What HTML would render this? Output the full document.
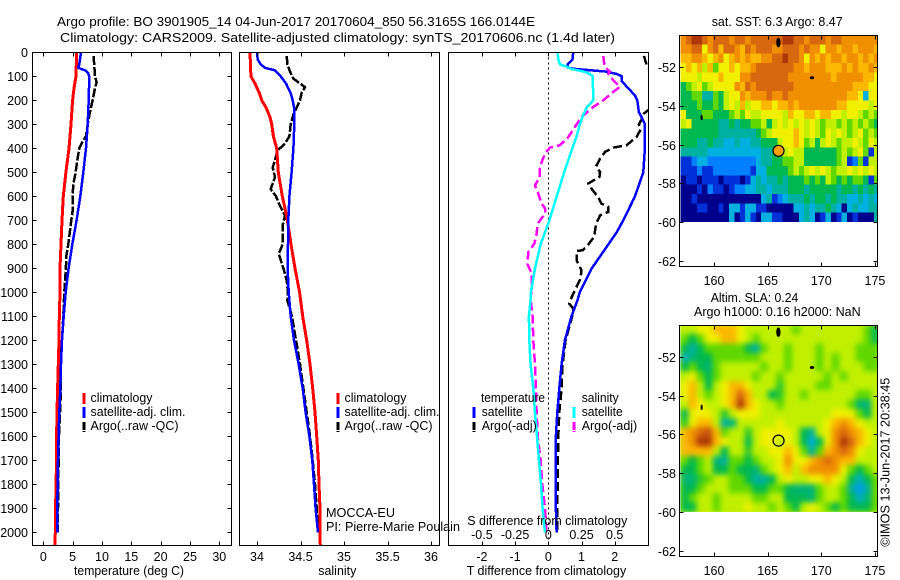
<!DOCTYPE html>
<html lang="en">
<head>
<meta charset="utf-8">
<title>Argo profile 3901905_14</title>
<style>
html,body{margin:0;padding:0;background:#fff;}
body{width:900px;height:580px;overflow:hidden;}
svg{display:block;}
text{font-family:"Liberation Sans",Arial,sans-serif;font-size:13px;fill:#000;}
</style>
</head>
<body>
<svg id="chart" xmlns="http://www.w3.org/2000/svg" width="900" height="580" viewBox="0 0 900 580">
  <rect x="0" y="0" width="900" height="580" fill="#fff"/>
  <text x="57" y="26" textLength="478" lengthAdjust="spacingAndGlyphs">Argo profile: BO 3901905_14 04-Jun-2017 20170604_850 56.3165S 166.0144E</text>
  <text x="60" y="42" textLength="555" lengthAdjust="spacingAndGlyphs">Climatology: CARS2009. Satellite-adjusted climatology: synTS_20170606.nc (1.4d later)</text>

  <g id="temperature-panel"></g>
  <g id="salinity-panel"></g>
  <g id="difference-panel"></g>
  <g id="sst-map"></g>
  <g id="sla-map"></g>

  <g>
    <line x1="84" y1="393" x2="84" y2="404" stroke="#f00" stroke-width="3"/>
    <line x1="84" y1="407" x2="84" y2="418" stroke="#00f" stroke-width="3"/>
    <line x1="84" y1="422" x2="84" y2="432" stroke="#000" stroke-width="3" stroke-dasharray="8 1"/>
    <text x="90.5" y="402" textLength="62" lengthAdjust="spacingAndGlyphs">climatology</text>
    <text x="90.5" y="416" textLength="95" lengthAdjust="spacingAndGlyphs">satellite-adj. clim.</text>
    <text x="90.5" y="430" textLength="88" lengthAdjust="spacingAndGlyphs">Argo(..raw -QC)</text>
  </g>
  <g>
    <line x1="338" y1="393" x2="338" y2="404" stroke="#f00" stroke-width="3"/>
    <line x1="338" y1="407" x2="338" y2="418" stroke="#00f" stroke-width="3"/>
    <line x1="338" y1="422" x2="338" y2="432" stroke="#000" stroke-width="3" stroke-dasharray="8 1"/>
    <text x="344.5" y="402" textLength="62" lengthAdjust="spacingAndGlyphs">climatology</text>
    <text x="344.5" y="416" textLength="95" lengthAdjust="spacingAndGlyphs">satellite-adj. clim.</text>
    <text x="344.5" y="430" textLength="88" lengthAdjust="spacingAndGlyphs">Argo(..raw -QC)</text>
  </g>
  <text x="326" y="517" textLength="69" lengthAdjust="spacingAndGlyphs">MOCCA-EU</text>
  <text x="326" y="531" textLength="134" lengthAdjust="spacingAndGlyphs">PI: Pierre-Marie Poulain</text>
  <g>
    <text x="481" y="402" textLength="64" lengthAdjust="spacingAndGlyphs">temperature</text>
    <line x1="474" y1="407" x2="474" y2="418" stroke="#00f" stroke-width="3"/>
    <text x="481.7" y="416" textLength="41" lengthAdjust="spacingAndGlyphs">satellite</text>
    <line x1="474" y1="422" x2="474" y2="432" stroke="#000" stroke-width="3" stroke-dasharray="8 1"/>
    <text x="481.7" y="430" textLength="55" lengthAdjust="spacingAndGlyphs">Argo(-adj)</text>
    <text x="581.7" y="402" textLength="37" lengthAdjust="spacingAndGlyphs">salinity</text>
    <line x1="574" y1="407" x2="574" y2="418" stroke="#0ff" stroke-width="3"/>
    <text x="581.7" y="416" textLength="41" lengthAdjust="spacingAndGlyphs">satellite</text>
    <line x1="574" y1="422" x2="574" y2="432" stroke="#f0f" stroke-width="3" stroke-dasharray="8 1"/>
    <text x="581.7" y="430" textLength="55.5" lengthAdjust="spacingAndGlyphs">Argo(-adj)</text>
  </g>

  <text x="74" y="575" textLength="110" lengthAdjust="spacingAndGlyphs">temperature (deg C)</text>
  <text x="318.3" y="575" textLength="38" lengthAdjust="spacingAndGlyphs">salinity</text>
  <text x="466.7" y="575" textLength="159.5" lengthAdjust="spacingAndGlyphs">T difference from climatology</text>
  <text x="467.3" y="525" textLength="160" lengthAdjust="spacingAndGlyphs">S difference from climatology</text>

  <text x="711.7" y="26" textLength="131" lengthAdjust="spacingAndGlyphs">sat. SST: 6.3 Argo: 8.47</text>
  <text x="710.7" y="302" textLength="87.6" lengthAdjust="spacingAndGlyphs">Altim. SLA: 0.24</text>
  <text x="694" y="316" textLength="166.7" lengthAdjust="spacingAndGlyphs">Argo h1000: 0.16 h2000: NaN</text>
  <text transform="translate(889.5,546.7) rotate(-90)" x="0" y="0" textLength="169" lengthAdjust="spacingAndGlyphs">©IMOS 13-Jun-2017 20:38:45</text>
</svg>

<script>
/* ---------- axis tick labels ---------- */
const depthTicks = [0,100,200,300,400,500,600,700,800,900,1000,1100,1200,1300,1400,1500,1600,1700,1800,1900,2000];
const temperatureTicks = [0,5,10,15,20,25,30];
const salinityTicks = [34,34.5,35,35.5,36];
const tDiffTicks = [-2,-1,0,1,2];
const sDiffTicks = [-0.5,-0.25,0,0.25,0.5];
const lonTicks = [160,165,170,175];
const latTicks = [52,54,56,58,60,62];

/* ---------- temperature profiles (deg C) ---------- */
const climDepth = [0,100,150,200,300,400,500,600,700,800,900,1000,1100,1200,1300,1400,1500,1600,1700,1800,1900,2000,2056];
const climTemp = [5.68,5.57,5.23,5.0,4.72,4.38,3.86,3.41,3.18,3.01,2.84,2.84,2.73,2.67,2.56,2.44,2.33,2.27,2.27,2.16,2.1,2.05,1.99];
const satTempDepth = [0,50,65,75,85,100,200,300,400,500,600,700,800,900,1000,1100,1200,1300,1400,1500,1600,1700,1800,1900,2000];
const satTemp = [6.42,6.14,5.97,7.1,7.61,7.84,7.73,7.56,7.27,6.82,6.31,5.68,4.94,4.32,3.81,3.47,3.18,3.01,2.9,2.73,2.61,2.5,2.44,2.39,2.39];
const argoTempDepth = [15,100,125,150,200,250,300,350,380,400,450,500,550,600,650,700,800,850,900,1000,1100,1200,1250,1300,1400,1500,1600,1700,1800,1900,2000];
const argoTemp = [8.58,8.81,9.09,8.81,8.41,7.95,7.56,7.27,6.53,6.14,5.8,5.51,5.11,5.0,5.06,4.77,4.26,3.92,3.86,3.58,3.41,3.18,3.07,2.95,3.01,2.84,2.67,2.61,2.56,2.5,2.44];

/* ---------- salinity profiles ---------- */
const climSalDepth = [0,100,130,170,200,230,270,300,350,400,500,600,650,700,800,900,1000,1100,1200,1300,1400,1500,1600,1700,1800,1900,2000,2056];
const climSal = [33.92,33.93,33.977,34.027,34.054,34.103,34.149,34.169,34.188,34.226,34.245,34.291,34.322,34.349,34.391,34.437,34.49,34.525,34.571,34.609,34.64,34.667,34.686,34.705,34.713,34.724,34.724,34.728];
const satSalDepth = [0,30,50,65,75,100,130,170,200,230,300,400,500,600,700,800,900,1000,1100,1200,1300,1400,1500,1600,1700,1800,1900,2000];
const satSal = [34,34.008,34.042,34.092,34.207,34.272,34.333,34.387,34.41,34.425,34.429,34.418,34.398,34.372,34.36,34.356,34.352,34.364,34.387,34.425,34.479,34.525,34.559,34.602,34.636,34.655,34.674,34.701];
const argoSalDepth = [15,50,80,110,125,145,170,200,230,260,300,350,380,410,450,480,520,570,600,640,680,720,800,840,900,950,1000,1035,1100,1200,1300,1400,1500,1600,1700,1800,1900,2000];
const argoSal = [34.341,34.349,34.379,34.418,34.475,34.552,34.513,34.494,34.456,34.418,34.387,34.372,34.322,34.234,34.207,34.18,34.207,34.157,34.218,34.264,34.322,34.295,34.295,34.249,34.303,34.341,34.356,34.349,34.402,34.448,34.494,34.533,34.571,34.609,34.64,34.667,34.686,34.705];

/* ---------- difference from climatology ---------- */
const satTDiffDepth = [0,30,50,65,70,80,90,100,120,150,180,200,250,270,300,400,500,600,700,750,800,900,1000,1033,1100,1200,1300,1400,1500,1600,1700,1800,1900,2000];
const satTDiff = [0.75,0.73,0.58,0.6,0.85,1.71,2.06,2.21,2.21,2.41,2.61,2.68,2.73,2.81,2.91,2.91,2.86,2.61,2.26,2.06,1.81,1.31,0.95,0.88,0.7,0.5,0.4,0.33,0.27,0.23,0.22,0.22,0.23,0.25];
const argoTDiffDepth = [15,60,100,150,200,255,280,300,320,352,387,397,415,443,475,499,519,547,575,603,631,644,665,679,714,769,811,825,828,867,908,943,992,1031,1047,1068,1100,1200,1300,1400,1500,1600,1700,1800,1900,2000];
const argoTDiff = [2.88,2.98,3.24,3.5,3.4,2.88,2.81,2.73,2.79,2.66,2.36,1.96,1.71,1.56,1.44,1.56,1.54,1.2,1.34,1.5,1.6,1.81,1.81,1.56,1.44,1.38,1.15,1.03,0.85,0.85,1.0,0.97,0.8,0.67,0.63,0.75,0.72,0.52,0.43,0.4,0.33,0.3,0.29,0.28,0.27,0.27];
const satSDiffDepth = [0,30,50,60,70,80,90,100,200,230,260,300,350,400,500,600,700,750,800,900,1000,1030,1100,1200,1300,1400,1500,1600,1700,1800,1900,2000];
const satSDiff = [0.07,0.075,0.088,0.138,0.176,0.264,0.314,0.334,0.339,0.289,0.264,0.238,0.213,0.181,0.12,0.063,0.008,-0.025,-0.058,-0.1,-0.131,-0.133,-0.146,-0.143,-0.133,-0.113,-0.1,-0.085,-0.07,-0.055,-0.043,-0.025];
const argoSDiffDepth = [15,50,65,80,90,117,144,165,200,228,269,304,353,387,397,422,457,485,519,554,589,631,651,672,714,756,797,832,881,922,978,1031,1100,1200,1300,1400,1500,1600,1700,1800,1900,2000];
const argoSDiff = [0.414,0.422,0.432,0.464,0.452,0.49,0.54,0.489,0.414,0.339,0.251,0.208,0.151,0.088,0.013,-0.025,-0.05,-0.063,-0.063,-0.1,-0.075,-0.05,-0.025,-0.025,-0.08,-0.088,-0.105,-0.15,-0.158,-0.125,-0.125,-0.133,-0.118,-0.113,-0.1,-0.093,-0.088,-0.08,-0.058,-0.045,-0.025,-0.013];

/* ---------- map data: colour-scale levels ---------- */
const sstLevels = [
[10,11,12,12,11,10,11,11,11,10,11,11,10,11,11,11,11,11,11,12,12,11,11,10,11,11,11,10,11,11,10,10,10,10,10,10,10],
[10,10,11,11,8,10,11,9,11,11,10,9,11,10,11,11,11,10,10,11,11,11,10,11,10,10,8,10,10,9,10,10,9,10,10,10,9],
[9,9,10,10,9,8,9,10,8,9,10,9,10,9,9,10,10,11,11,12,11,11,10,8,10,9,10,9,10,10,9,10,10,9,10,9,10],
[8,9,8,9,7,9,6,8,8,9,8,9,9,10,11,11,11,11,11,11,11,10,10,9,10,10,10,9,9,9,10,9,10,9,9,10,9],
[8,8,8,7,8,8,8,9,8,8,8,10,10,11,11,11,11,11,11,11,10,10,10,10,10,10,10,10,9,10,10,10,10,10,9,9,8],
[5,6,7,8,6,7,8,8,8,8,10,9,11,10,11,11,11,11,11,11,11,10,10,10,10,10,10,10,10,10,10,10,9,9,9,8,8],
[5,5,6,6,4,4,6,5,7,8,8,10,9,10,10,10,11,10,10,11,10,10,10,10,10,10,10,10,10,10,10,9,9,8,3,8,8],
[5,5,5,6,5,5,6,5,7,8,7,9,7,8,8,9,9,8,9,9,10,9,10,10,10,10,10,10,10,9,9,8,8,8,8,7,8],
[8,5,5,5,6,6,5,5,5,6,7,6,8,7,7,8,8,8,8,7,9,8,8,9,9,8,9,9,8,8,7,8,8,7,6,7,6],
[7,8,5,5,5,5,5,4,4,5,4,5,5,6,6,7,5,7,8,7,8,7,8,7,8,7,6,7,7,6,7,6,7,6,7,6,5],
[5,5,5,5,5,5,5,4,4,4,4,4,4,4,5,6,7,8,8,8,8,9,8,7,8,7,6,8,7,8,7,6,7,8,6,7,6],
[5,5,5,4,4,5,4,4,3,3,4,3,3,4,4,5,5,5,7,8,8,9,8,6,7,5,7,8,7,6,7,7,8,7,6,8,7],
[4,4,4,4,4,3,3,3,3,3,3,3,3,3,3,4,4,5,6,7,8,7,7,5,5,5,5,5,5,6,7,6,7,8,6,1,7],
[1,1,2,3,3,2,2,2,2,2,2,2,2,2,3,4,4,5,5,6,6,7,7,5,5,5,5,5,5,6,7,1,2,6,1,7,7],
[1,1,1,2,1,1,2,2,2,2,2,2,2,1,3,3,5,5,5,5,6,7,6,7,8,7,8,7,6,7,7,8,7,8,7,8,7],
[0,1,1,0,1,1,1,0,1,1,1,0,1,3,4,3,4,4,5,4,5,5,5,6,5,6,5,7,6,5,6,5,6,6,5,1,6],
[0,0,0,1,0,2,1,1,0,1,2,2,3,3,4,4,3,4,4,4,5,5,5,4,5,5,5,5,5,4,5,5,4,5,4,5,4],
[0,0,1,0,0,0,0,0,0,0,0,0,0,0,0,3,4,1,2,3,4,4,4,5,4,5,5,4,5,4,4,3,3,4,3,4,3],
[0,0,0,1,1,0,0,1,0,3,3,1,3,3,1,1,0,0,0,0,0,3,3,4,3,4,4,5,4,3,0,3,4,3,3,4,4],
[0,0,0,0,0,0,0,0,0,3,0,1,3,1,0,3,3,1,1,0,0,0,3,4,3,0,1,3,0,1,3,0,1,0,0,0,4]
];
const slaLevels = [
[7,7,8,8,9,9,9,8,7,7,7,7,7,7,6,7,7,7,7,7,7,7,7,6,5],
[6,5,6,8,8,9,9,8,7,6,7,7,7,7,7,7,7,7,7,7,7,7,7,6,5],
[5,4,5,6,6,6,6,6,5,4,6,7,7,6,7,7,7,6,7,7,7,7,6,6,6],
[3.5,4.5,5,5,6,6,6,6,6,6,7,7,7,6,7,7,7,6,7,6,7,7,6,6,6],
[5,6,5,4.5,6,7,7,7,7,7,6,7,7,6,7,7,7,6,7,6,7,7,7,6,6],
[7,8,6,5,6,7,7,7,7,6,7,7,6,7,7,7,7,7,6,7,6,7,7,7,7],
[8,9,7,5,7,8,9,9,8,7,7,7,5.5,7,7,7,7,6,6,7,7,7,7,7,7],
[8,9,7,6,7,8,9,11,9,7,7,5,5.5,7,7,6,7,7,7,7,7,7,6,6,7],
[7,9,8,7,7,8,9,12,9,8,7,7,6,7,7,7,7,7,7,7,7,6,4.5,4.5,7],
[5,8,8,8,7,5.5,7,8,8,8,7,7,7,7,7,7,7,7,7,8,8,8,6,5,7],
[5.5,8,9,9,7,4,4.5,7,7,7,7,7,8,7,7,7,7,7,8,9,10,9,8,7,7],
[9,10,11,11.5,9,6,7,7,5.5,7,8,8,8,8,7,5,4,7,8,10,11,10,9,8,7],
[9,10,12,12,9,8,7,7,5,7,8,8,7,8,7,5,3,5,8,10,12,11,9,8,7],
[9,9,9,9,7,5,7,7,5.5,7,7,8,8,9,8,6,4,6,9,10,11,10,8,7,7],
[6,5,6,7,4.5,4,6,6,5,6,7,7,8,10,8,8,9,10,11,10,9,9,7,7,7],
[5,5,6,7,5,5,6,5,5,4.5,6,7,8,9,7,9,10,10,10,10,8,6,5,6,7],
[4.5,4.5,5.5,6,7,7,6,6,5,4,4,5,7,8,7,7,8,8,9,8,7,5,3.5,5,6],
[5,5,6,7,7,7,6,6,6,5,5,6,6,5,4.5,4.5,4.5,6,7,7,6,4,2.5,4,6],
[5,6,7,7,6,7,7,7,7,6,6,7,7,5,5,5,4.5,6,7,7,6,5,3.5,4.5,6],
[5,5,7,7,6,7,7,7,8,7,7,6,7,6,5,7,8,7,6,5,6,5,5,5,6]
];
const mapLonStart = [156.9];
const mapLonEnd = [175.4];
const mapLatStart = [50.33];
const mapLatEnd = [60];
const profileLon = [166.0144];
const profileLat = [56.3165];
const islandLon = [166.0,169.13,158.85];
const islandLat = [50.72,52.54,54.6];
const islandLonSpan = [0.4,0.4,0.2];
const islandLatSpan = [0.5,0.15,0.3];

/* ---------- colour scale ---------- */
const palette = ['#00008c','#0030d8','#0080ff','#00b0e0','#00b0a0','#00b850','#60d800','#c0f000','#f0f000','#fcb800','#f09000','#d86810','#b03808'];

/* ---------- axis functions ---------- */
const depthY = d => 52.3 + 0.24 * d;
const tempX = t => 43.3 + 5.867 * t;
const salX = s => 257 + 87 * (s - 34);
const tDiffX = t => 548.3 + 33.2 * t;
const sDiffX = s => 548.3 + 132.8 * s;
const lonX = l => 714 + 10.73 * (l - 160);
const sstLatY = l => 67.3 + 19.35 * (l - 52);
const slaLatY = l => 357 + 19.37 * (l - 52);

const SVGNS = 'http://www.w3.org/2000/svg';
const chartDefs = document.createElementNS(SVGNS, 'defs');
document.getElementById('chart').insertBefore(chartDefs, document.getElementById('chart').firstChild);

function make(parent, tag, attrs, name) {
  const el = document.createElementNS(SVGNS, tag);
  for (const k in attrs) el.setAttribute(k, attrs[k]);
  
  
  parent.appendChild(el);
  return el;
}
function label(parent, x, y, str, anchor, name) {
  const t = make(parent, 'text', {x: x, y: y, 'text-anchor': anchor, style: 'font-size:12.5px'}, name);
  t.textContent = str;
  return t;
}
function frame(g, L, T, R, B) {
  make(g, 'rect', {x: L, y: T, width: R - L, height: B - T, fill: 'none', stroke: '#000', 'stroke-width': 1, 'shape-rendering': 'crispEdges'}, 'axes-frame');
}
function tick(g, x1, y1, x2, y2, name) {
  make(g, 'line', {x1: x1, y1: y1, x2: x2, y2: y2, stroke: '#000', 'stroke-width': 1, 'shape-rendering': 'crispEdges'}, name);
}
function clipFor(id, L, T, R, B) {
  const c = document.createElementNS(SVGNS, 'clipPath');
  c.setAttribute('id', id);
  const r = document.createElementNS(SVGNS, 'rect');
  r.setAttribute('x', L); r.setAttribute('y', T); r.setAttribute('width', R - L); r.setAttribute('height', B - T);
  c.appendChild(r);
  chartDefs.appendChild(c);
}
function profile(g, xs, depths, xFn, color, width, dash, name, clipId) {
  const pts = depths.map((d, i) => xFn(xs[i]).toFixed(1) + ',' + depthY(d).toFixed(1)).join(' ');
  const attrs = {points: pts, fill: 'none', stroke: color, 'stroke-width': width, 'shape-rendering': 'crispEdges', 'stroke-linejoin': 'round'};
  if (dash) attrs['stroke-dasharray'] = dash;
  attrs['clip-path'] = 'url(#' + clipId + ')';
  make(g, 'polyline', attrs, name);
}
function levelColor(v) {
  const lo = Math.max(0, Math.min(palette.length - 1, Math.floor(v)));
  const hi = Math.min(palette.length - 1, lo + 1);
  const f = Math.max(0, Math.min(1, v - lo));
  const a = parseInt(palette[lo].slice(1), 16), b = parseInt(palette[hi].slice(1), 16);
  const mix = s => Math.round(((a >> s) & 255) * (1 - f) + ((b >> s) & 255) * f);
  return 'rgb(' + mix(16) + ',' + mix(8) + ',' + mix(0) + ')';
}

/* ---------- temperature panel ---------- */
(function () {
  const g = document.getElementById('temperature-panel');
  const L = 32.5, R = 231.5, T = 52.5, B = 545.5;
  clipFor('clip-temp', L, T, R, B);
  profile(g, argoTemp, argoTempDepth, tempX, '#000', 2.5, '9 2', 'argo-temperature-line', 'clip-temp');
  profile(g, climTemp, climDepth, tempX, '#f00', 3, null, 'climatology-temperature-line', 'clip-temp');
  profile(g, satTemp, satTempDepth, tempX, '#00f', 2.5, null, 'satellite-temperature-line', 'clip-temp');
  frame(g, L, T, R, B);
  depthTicks.forEach(d => {
    const y = Math.round(depthY(d)) + 0.5;
    tick(g, L, y, L + 4, y, 'depth-tick-left');
    tick(g, R - 4, y, R, y, 'depth-tick-right');
    label(g, 28, y + 4.5, String(d), 'end', 'depth-tick-label');
  });
  temperatureTicks.forEach(v => {
    const x = Math.round(tempX(v)) + 0.5;
    tick(g, x, T, x, T + 4, 'temperature-tick-top');
    tick(g, x, B - 4, x, B, 'temperature-tick-bottom');
    label(g, tempX(v), 561, String(v), 'middle', 'temperature-tick-label');
  });
})();

/* ---------- salinity panel ---------- */
(function () {
  const g = document.getElementById('salinity-panel');
  const L = 239.5, R = 439.5, T = 52.5, B = 545.5;
  clipFor('clip-sal', L, T, R, B);
  profile(g, argoSal, argoSalDepth, salX, '#000', 2.5, '9 2', 'argo-salinity-line', 'clip-sal');
  profile(g, climSal, climSalDepth, salX, '#f00', 3, null, 'climatology-salinity-line', 'clip-sal');
  profile(g, satSal, satSalDepth, salX, '#00f', 2.5, null, 'satellite-salinity-line', 'clip-sal');
  frame(g, L, T, R, B);
  salinityTicks.forEach(v => {
    const x = Math.round(salX(v)) + 0.5;
    tick(g, x, T, x, T + 4, 'salinity-tick-top');
    tick(g, x, B - 4, x, B, 'salinity-tick-bottom');
    label(g, salX(v), 561, String(v), 'middle', 'salinity-tick-label');
  });
})();

/* ---------- difference panel ---------- */
(function () {
  const g = document.getElementById('difference-panel');
  const L = 448.5, R = 648.5, T = 52.5, B = 545.5;
  clipFor('clip-diff', L, T, R, B);
  const zero = Math.round(tDiffX(0)) + 0.5;
  make(g, 'line', {x1: zero, y1: T, x2: zero, y2: B, stroke: '#000', 'stroke-width': 1, 'stroke-dasharray': '2 3', 'shape-rendering': 'crispEdges'}, 'zero-difference-line');
  profile(g, argoTDiff, argoTDiffDepth, tDiffX, '#000', 2.5, '9 4', 'argo-temperature-difference-line', 'clip-diff');
  profile(g, satTDiff, satTDiffDepth, tDiffX, '#00f', 2.5, null, 'satellite-temperature-difference-line', 'clip-diff');
  profile(g, argoSDiff, argoSDiffDepth, sDiffX, '#f0f', 2.5, '9 4', 'argo-salinity-difference-line', 'clip-diff');
  profile(g, satSDiff, satSDiffDepth, sDiffX, '#0ff', 2.5, null, 'satellite-salinity-difference-line', 'clip-diff');
  frame(g, L, T, R, B);
  tDiffTicks.forEach(v => {
    const x = Math.round(tDiffX(v)) + 0.5;
    tick(g, x, T, x, T + 4, 't-difference-tick-top');
    tick(g, x, B - 4, x, B, 't-difference-tick-bottom');
    label(g, tDiffX(v), 561, String(v), 'middle', 't-difference-tick-label');
  });
  sDiffTicks.forEach(v => {
    label(g, sDiffX(v), 539, String(v), 'middle', 's-difference-tick-label');
  });
})();

/* ---------- maps ---------- */
function drawMap(gid, levels, latY, T, B, blur, marker, clipId) {
  const g = document.getElementById(gid);
  const L = 679.5, R = 877.5;
  clipFor(clipId, L, T, R, B);
  const rows = levels.length, cols = levels[0].length;
  const lonStep = (mapLonEnd[0] - mapLonStart[0]) / cols;
  const latStep = (mapLatEnd[0] - mapLatStart[0]) / rows;
  const holder = make(g, 'g', {'clip-path': 'url(#' + clipId + ')'}, gid + '-data-area');
  if (blur) {
    make(holder, 'rect', {x: lonX(mapLonStart[0]), y: latY(mapLatStart[0]), width: lonX(mapLonEnd[0]) - lonX(mapLonStart[0]), height: latY(mapLatEnd[0]) - latY(mapLatStart[0]), fill: '#c0f000'}, 'map-underlay');
  }
  const cells = make(holder, 'g', blur ? {filter: 'url(#sla-smooth)'} : {}, gid + '-cells');
  levels.forEach((row, r) => {
    row.forEach((v, c) => {
      const x0 = lonX(mapLonStart[0] + c * lonStep), x1 = lonX(mapLonStart[0] + (c + 1) * lonStep);
      const y0 = latY(mapLatStart[0] + r * latStep), y1 = latY(mapLatStart[0] + (r + 1) * latStep);
      make(cells, 'rect', {x: x0.toFixed(2), y: y0.toFixed(2), width: (x1 - x0 + 0.3).toFixed(2), height: (y1 - y0 + (r === rows - 1 ? 0 : 0.3)).toFixed(2), fill: levelColor(v), 'shape-rendering': 'crispEdges'}, 'heatmap-cell');
    });
  });
  if (blur) {
    const y = latY(mapLatEnd[0]);
    make(holder, 'rect', {x: L, y: y, width: R - L, height: B - y, fill: '#fff'}, 'no-data-region');
  }
  islandLon.forEach((lon, i) => {
    make(holder, 'ellipse', {cx: lonX(lon), cy: latY(islandLat[i]), rx: islandLonSpan[i] / 2 * 10.73, ry: islandLatSpan[i] * 19.35 / 2, fill: '#000'}, 'island');
  });
  make(holder, 'circle', {cx: lonX(profileLon[0]), cy: latY(profileLat[0]), r: 5.5, fill: marker, stroke: '#000', 'stroke-width': 1.2}, 'profile-location-marker');
  frame(g, L, T, R, B);
  latTicks.forEach(v => {
    const y = Math.round(latY(v)) + 0.5;
    tick(g, L, y, L + 4, y, 'latitude-tick-left');
    tick(g, R - 4, y, R, y, 'latitude-tick-right');
    label(g, 676, y + 4.5, '-' + v, 'end', 'latitude-tick-label');
  });
  lonTicks.forEach(v => {
    const x = Math.round(lonX(v)) + 0.5;
    tick(g, x, T, x, T + 4, 'longitude-tick-top');
    tick(g, x, B - 4, x, B, 'longitude-tick-bottom');
    label(g, lonX(v), B + 18.5, String(v), 'middle', 'longitude-tick-label');
  });
}

(function () {
  const f = document.createElementNS(SVGNS, 'filter');
  f.setAttribute('id', 'sla-smooth');
  f.setAttribute('color-interpolation-filters', 'sRGB');
  f.setAttribute('x', '-2%');
  f.setAttribute('y', '-2%');
  f.setAttribute('width', '104%');
  f.setAttribute('height', '104%');
  const b = document.createElementNS(SVGNS, 'feGaussianBlur');
  b.setAttribute('stdDeviation', '2.8');
  f.appendChild(b);
  chartDefs.appendChild(f);
})();

drawMap('sst-map', sstLevels, sstLatY, 35.5, 266.5, false, '#f8a000', 'clip-sst');
drawMap('sla-map', slaLevels, slaLatY, 325.5, 556.5, true, 'none', 'clip-sla');
</script>
</body>
</html>
